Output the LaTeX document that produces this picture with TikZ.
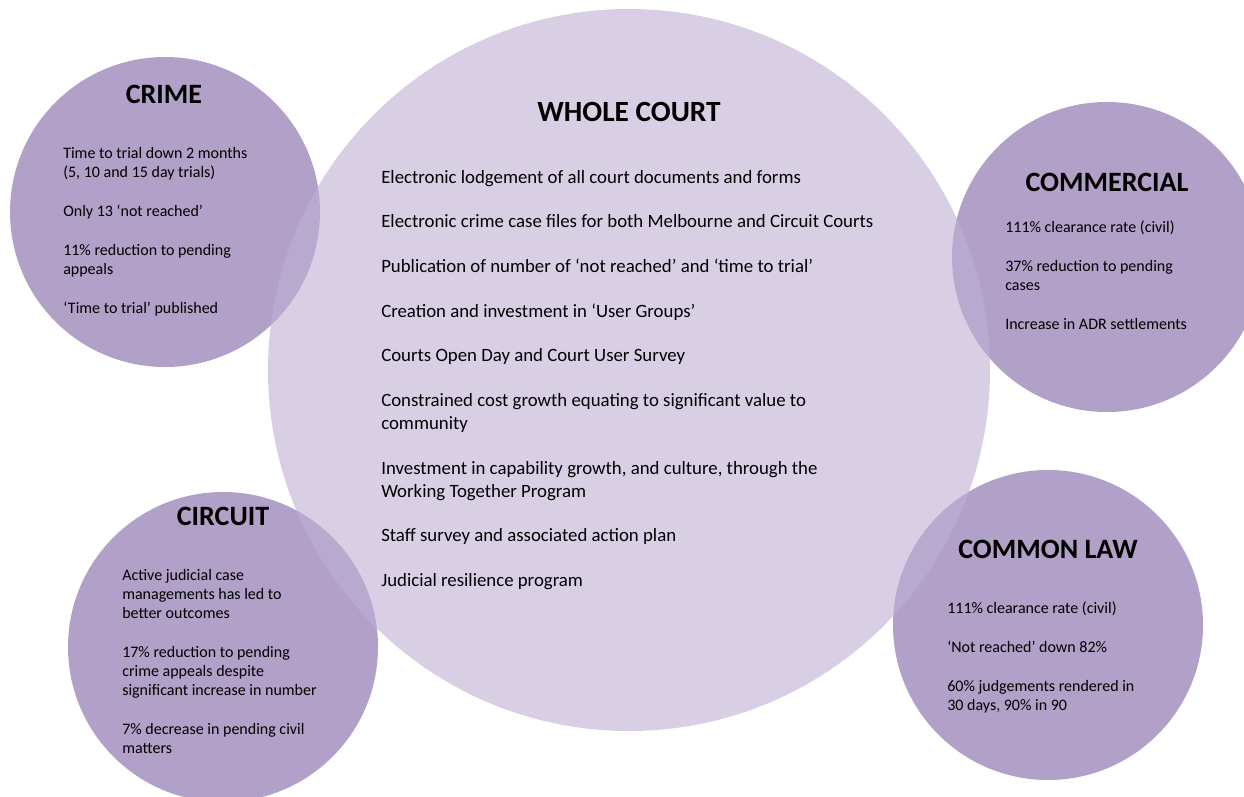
\documentclass[tikz,border=0pt]{standalone}
\usepackage{fontspec}
\setmainfont{Carlito}
\usetikzlibrary{positioning}
\definecolor{lilac}{RGB}{177,160,199}
\definecolor{lavender}{RGB}{190,175,212}
\tikzstyle{disc} = [circle, fill=lilac, minimum size=232.5pt, inner sep=0]
\tikzstyle{bigdisc} = [circle, fill=lavender, fill opacity=0.6, minimum size=541.5pt, inner sep=0]
\tikzstyle{heading} = [font=\fontsize{21}{25}\selectfont\bfseries, inner sep=0]
\tikzstyle{facts} = [font=\fontsize{12}{14.25}\selectfont, align=left, anchor=north west, inner sep=0]
\tikzstyle{bigfacts} = [font=\fontsize{14.1}{17.25}\selectfont, align=left, anchor=north west, inner sep=0]
\begin{document}
\begin{tikzpicture}[x=0.75pt, y=-0.75pt]
        \useasboundingbox (0,0) rectangle (1244,796);
        \clip (0,0) rectangle (1244,796);
        % the four divisions
        \node (crime) [disc] at (165,212) {};
        \node (commercial) [disc] at (1107,257) {};
        \node (circuit) [disc] at (223,647) {};
        \node (commonlaw) [disc] at (1048,625) {};
        % the whole court on top
        \node (whole) [bigdisc] at (629,370) {};

        \node (crimetitle) [heading] at (164,94) {CRIME};
        \node (crimefacts) [facts] at (63,147) {Time to trial down 2 months\\
            (5, 10 and 15 day trials)\\[15pt]
            Only 13 ‘not reached’\\[15pt]
            11\% reduction to pending\\
            appeals\\[15pt]
            ‘Time to trial’ published};

        \node (wholetitle) [heading, font=\fontsize{22}{26}\selectfont\bfseries] at (629,112) {WHOLE COURT};
        \node (wholefacts) [bigfacts] at (381,170) {Electronic lodgement of all court documents and forms\\[16.25pt]
            Electronic crime case files for both Melbourne and Circuit Courts\\[16.25pt]
            Publication of number of ‘not reached’ and ‘time to trial’\\[16.25pt]
            Creation and investment in ‘User Groups’\\[16.25pt]
            Courts Open Day and Court User Survey\\[16.25pt]
            Constrained cost growth equating to significant value to\\
            community\\[16.25pt]
            Investment in capability growth, and culture, through the\\
            Working Together Program\\[16.25pt]
            Staff survey and associated action plan\\[16.25pt]
            Judicial resilience program};

        \node (commercialtitle) [heading] at (1107,182) {COMMERCIAL};
        \node (commercialfacts) [facts] at (1005,221) {111\% clearance rate (civil)\\[15pt]
            37\% reduction to pending\\
            cases\\[15pt]
            Increase in ADR settlements};

        \node (circuittitle) [heading] at (223,516) {CIRCUIT};
        \node (circuitfacts) [facts] at (122,569) {Active judicial case\\
            managements has led to\\
            better outcomes\\[15pt]
            17\% reduction to pending\\
            crime appeals despite\\
            significant increase in number\\[15pt]
            7\% decrease in pending civil\\
            matters};

        \node (commonlawtitle) [heading] at (1048,549) {COMMON LAW};
        \node (commonlawfacts) [facts] at (947,602) {111\% clearance rate (civil)\\[15pt]
            ‘Not reached’ down 82\%\\[15pt]
            60\% judgements rendered in\\
            30 days, 90\% in 90};
    \end{tikzpicture}
\end{document}
